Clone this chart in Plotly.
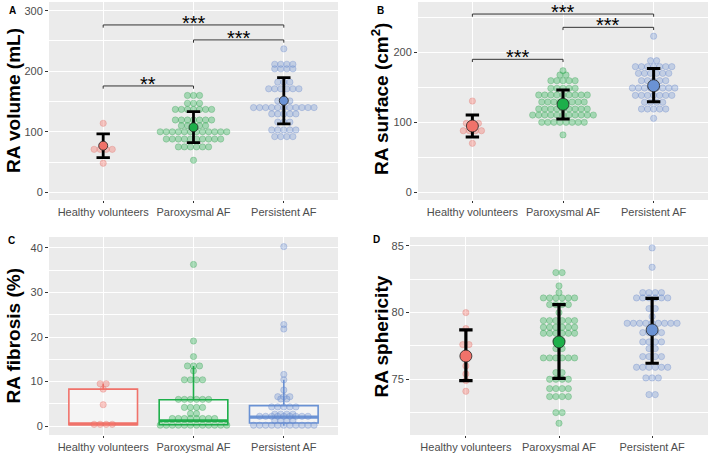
import plotly.graph_objects as go

# ---------------- data ----------------
GROUPS = ["Healthy volunteers", "Paroxysmal AF", "Persistent AF"]
CAT_POS = [1, 2, 3]

# Panel A - RA volume (mL): dot rows (value levels and dot counts)
A_HV_LEVELS = [114, 71, 48]
A_HV_COUNTS = [1, 4, 1]
A_PX_LEVELS = [160, 147, 137, 119.5, 110, 100, 88, 75, 53]
A_PX_COUNTS = [3, 3, 7, 7, 5, 12, 10, 6, 1]
A_PS_LEVELS = [237, 211.5, 204, 182, 171, 151, 140, 129.5, 116, 103, 92]
A_PS_COUNTS = [1, 4, 4, 3, 6, 3, 11, 5, 3, 5, 4]
A_MEAN = [77, 107.4, 151.4]
A_LOW = [57.2, 82, 113]
A_HIGH = [96.4, 133.3, 189.5]
A_SIG_PAIRS = [(1, 2), (2, 3), (1, 3)]
A_SIG_Y = [175.7, 251.7, 276.5]
A_SIG_LABELS = ["**", "***", "***"]

# Panel B - RA surface (cm2)
B_HV_LEVELS = [130.4, 98.5, 88, 70]
B_HV_COUNTS = [1, 3, 4, 1]
B_PX_LEVELS = [173.7, 167.6, 159.5, 148.6, 139, 129, 119, 110.4, 100, 82]
B_PX_COUNTS = [1, 2, 5, 5, 9, 8, 9, 11, 8, 1]
B_PS_LEVELS = [223, 188, 179.5, 170, 159.5, 149, 138.5, 128.6, 119, 105.7]
B_PS_COUNTS = [1, 2, 7, 6, 5, 8, 7, 4, 5, 1]
B_MEAN = [94.7, 125.7, 152.3]
B_LOW = [79, 104.7, 129.4]
B_HIGH = [110.4, 146, 177]
B_SIG_PAIRS = [(1, 2), (2, 3), (1, 3)]
B_SIG_Y = [190, 235.7, 254.7]
B_SIG_LABELS = ["***", "***", "***"]

# Panel C - RA fibrosis (%)
C_HV_LEVELS = [9.5, 8.3, 4.8, 0.4]
C_HV_COUNTS = [2, 1, 1, 4]
C_PX_LEVELS = [36.3, 19.1, 15.6, 13.5, 12.4, 10.4, 6.0, 4.2, 2.8, 1.7, 0.2]
C_PX_COUNTS = [1, 1, 1, 3, 1, 4, 6, 4, 2, 8, 12]
C_PS_LEVELS = [40.3, 22.8, 21.8, 11.6, 10.4, 8.1, 6.6, 6.1, 4.3, 2.7, 2.2, 1.2, 0.2]
C_PS_COUNTS = [1, 1, 1, 1, 1, 1, 3, 2, 5, 4, 9, 4, 11]
C_Q1 = [0.3, 0.3, 0.7]
C_MEDIAN = [0.5, 1.2, 2.0]
C_Q3 = [8.3, 5.9, 4.6]
C_LOWERFENCE = [0.1, 0.1, 0.1]
C_UPPERFENCE = [9.5, 13.5, 10.4]

# Panel D - RA sphericity
D_HV_LEVELS = [80.0, 78.8, 77.6, 76.0, 75.4, 74.9, 74.1]
D_HV_COUNTS = [1, 1, 2, 1, 1, 1, 1]
D_PX_LEVELS = [83.0, 82.0, 81.5, 81.1, 80.6, 80.0, 79.4, 78.9, 78.45, 77.9, 77.3,
               76.6, 75.5, 75.0, 74.3, 73.7, 72.5, 71.7]
D_PX_COUNTS = [2, 1, 1, 6, 4, 1, 6, 6, 6, 2, 2, 6, 2, 4, 4, 4, 2, 1]
D_PS_LEVELS = [84.85, 83.4, 81.5, 81.1, 80.3, 79.7, 79.2, 78.5, 77.8, 77.3, 76.7,
               75.9, 75.1, 73.85]
D_PS_COUNTS = [1, 1, 4, 6, 2, 1, 9, 4, 4, 2, 4, 6, 3, 2]
D_MEAN = [76.74, 77.8, 78.7]
D_LOW = [74.9, 75.07, 76.2]
D_HIGH = [78.7, 80.6, 81.07]

# ---------------- styles ----------------
FONT = "Liberation Sans, Arial, sans-serif"
DOT_FILL = ["rgba(248,118,109,0.38)", "rgba(40,178,80,0.36)", "rgba(111,149,214,0.33)"]
DOT_LINE = ["rgba(220,110,105,0.45)", "rgba(40,150,70,0.40)", "rgba(100,130,200,0.45)"]
MAIN = ["#F0726A", "#1DAF4A", "#6A92D4"]
STEP = 0.067

fig = go.Figure()


def dots(levels, counts, cat):
    xs, ys = [], []
    for lv, n in zip(levels, counts):
        for i in range(n):
            xs.append(cat + (i - (n - 1) / 2) * STEP)
            ys.append(lv)
    return xs, ys


def add_dots(panel_levels, panel_counts, xa, ya, size=6.3):
    for g, (lv, ct) in enumerate(zip(panel_levels, panel_counts)):
        xs, ys = dots(lv, ct, CAT_POS[g])
        fig.add_trace(go.Scatter(
            x=xs, y=ys, mode="markers", xaxis=xa, yaxis=ya, showlegend=False,
            hoverinfo="skip",
            marker=dict(size=size, color=DOT_FILL[g], line=dict(width=0.7, color=DOT_LINE[g]))))


def add_means(mean, low, high, xa, ya, msize, thick):
    for g in range(3):
        fig.add_trace(go.Scatter(
            x=[CAT_POS[g]], y=[mean[g]], mode="markers", xaxis=xa, yaxis=ya,
            showlegend=False,
            error_y=dict(type="data", symmetric=False, array=[high[g] - mean[g]],
                         arrayminus=[mean[g] - low[g]], color="black",
                         thickness=thick, width=6.7),
            marker=dict(size=msize, color=MAIN[g], line=dict(width=0.8, color="#222222"))))


def add_sig(pairs, ys, labels, xa, ya, drop, refx, refy):
    for (a, b), y, lab in zip(pairs, ys, labels):
        fig.add_trace(go.Scatter(
            x=[a, a, b, b], y=[y - drop, y, y, y - drop], mode="lines", xaxis=xa, yaxis=ya,
            showlegend=False, hoverinfo="skip", line=dict(color="#333333", width=1)))
        fig.add_annotation(x=(a + b) / 2, y=y, xref=refx, yref=refy, text=lab,
                           showarrow=False, yanchor="middle", yshift=2,
                           font=dict(size=20, color="black", family=FONT))


# Panel A
add_dots([A_HV_LEVELS, A_PX_LEVELS, A_PS_LEVELS], [A_HV_COUNTS, A_PX_COUNTS, A_PS_COUNTS], "x", "y")
add_means(A_MEAN, A_LOW, A_HIGH, "x", "y", 9, 2.8)
add_sig(A_SIG_PAIRS, A_SIG_Y, A_SIG_LABELS, "x", "y", 4.5, "x", "y")

# Panel B
add_dots([B_HV_LEVELS, B_PX_LEVELS, B_PS_LEVELS], [B_HV_COUNTS, B_PX_COUNTS, B_PS_COUNTS], "x2", "y2")
add_means(B_MEAN, B_LOW, B_HIGH, "x2", "y2", 12, 3)
add_sig(B_SIG_PAIRS, B_SIG_Y, B_SIG_LABELS, "x2", "y2", 3.9, "x2", "y2")

# Panel C
for g in range(3):
    fig.add_trace(go.Box(
        x=[CAT_POS[g]], q1=[C_Q1[g]], median=[C_MEDIAN[g]], q3=[C_Q3[g]],
        lowerfence=[C_LOWERFENCE[g]], upperfence=[C_UPPERFENCE[g]],
        xaxis="x3", yaxis="y3", width=0.76, whiskerwidth=0, showlegend=False,
        fillcolor="rgba(255,255,255,0.45)", line=dict(color=MAIN[g], width=1.6),
        boxpoints=False, hoverinfo="skip"))
    fig.add_trace(go.Scatter(
        x=[CAT_POS[g] - 0.38, CAT_POS[g] + 0.38], y=[C_MEDIAN[g], C_MEDIAN[g]],
        mode="lines", xaxis="x3", yaxis="y3", showlegend=False, hoverinfo="skip",
        line=dict(color=MAIN[g], width=3.2)))
add_dots([C_HV_LEVELS, C_PX_LEVELS, C_PS_LEVELS], [C_HV_COUNTS, C_PX_COUNTS, C_PS_COUNTS], "x3", "y3")

# Panel D
add_dots([D_HV_LEVELS, D_PX_LEVELS, D_PS_LEVELS], [D_HV_COUNTS, D_PX_COUNTS, D_PS_COUNTS], "x4", "y4")
add_means(D_MEAN, D_LOW, D_HIGH, "x4", "y4", 12, 3.2)

# ---------------- layout ----------------
W, H = 709, 453


def xd(l, r):
    return [l / W, r / W]


def yd(top, bottom):
    return [(H - bottom) / H, (H - top) / H]


def xaxis(dom, anchor):
    return dict(domain=dom, anchor=anchor, range=[0.4, 3.6], tickvals=CAT_POS, ticktext=GROUPS,
                automargin=False,
                showgrid=True, gridcolor="white", gridwidth=1.1, zeroline=False, showline=False,
                ticks="outside", ticklen=2, tickcolor="#333333", tickwidth=1,
                tickfont=dict(size=11, color="#4D4D4D", family=FONT))


def yaxis(dom, anchor, rng, dtick, minor_dtick, tick0=0):
    return dict(domain=dom, anchor=anchor, range=rng, dtick=dtick, tick0=tick0,
                automargin=False,
                showgrid=True, gridcolor="white", gridwidth=1.1, zeroline=False, showline=False,
                ticks="outside", ticklen=3, tickcolor="#333333", tickwidth=1,
                tickfont=dict(size=11, color="#4D4D4D", family=FONT),
                minor=dict(dtick=minor_dtick, tick0=tick0, showgrid=True, gridcolor="white",
                           gridwidth=0.5, ticks=""))


fig.update_layout(
    width=W, height=H, margin=dict(l=0, r=0, t=0, b=0, autoexpand=False),
    paper_bgcolor="white", plot_bgcolor="#EBEBEB",
    font=dict(family=FONT),
    xaxis=xaxis(xd(49, 338), "y"),
    yaxis=yaxis(yd(2, 200), "x", [-12.7, 314.4], 100, 50),
    xaxis2=xaxis(xd(418, 708), "y2"),
    yaxis2=yaxis(yd(2, 200), "x2", [-11, 271.9], 100, 50),
    xaxis3=xaxis(xd(49, 338), "y3"),
    yaxis3=yaxis(yd(237, 435), "x3", [-2.0, 42.46], 10, 5),
    xaxis4=xaxis(xd(410, 708), "y4"),
    yaxis4=yaxis(yd(237, 435), "x4", [70.82, 85.67], 5, 2.5, tick0=75),
)

# axis titles and panel letters
titles = [("RA volume (mL)", 13, 101), ("RA surface (cm<sup>2</sup>)", 380, 99),
          ("RA fibrosis (%)", 13, 336.5), ("RA sphericity", 381, 336.5)]
for txt, px, py in titles:
    fig.add_annotation(x=px / W, y=(H - py) / H, xref="paper", yref="paper", text="<b>" + txt + "</b>",
                       textangle=-90, showarrow=False, xanchor="center", yanchor="middle",
                       font=dict(size=19, color="black", family=FONT))

letters = [("A", 12, 10), ("B", 380, 10), ("C", 11, 240), ("D", 377, 239)]
for txt, px, py in letters:
    fig.add_annotation(x=px / W, y=(H - py) / H, xref="paper", yref="paper", text="<b>" + txt + "</b>",
                       showarrow=False, xanchor="center", yanchor="middle",
                       font=dict(size=10, color="black", family=FONT))

fig.write_html("out.html", config={"displayModeBar": False},
               post_script="document.body.style.margin='0';document.body.style.overflow='hidden';")
